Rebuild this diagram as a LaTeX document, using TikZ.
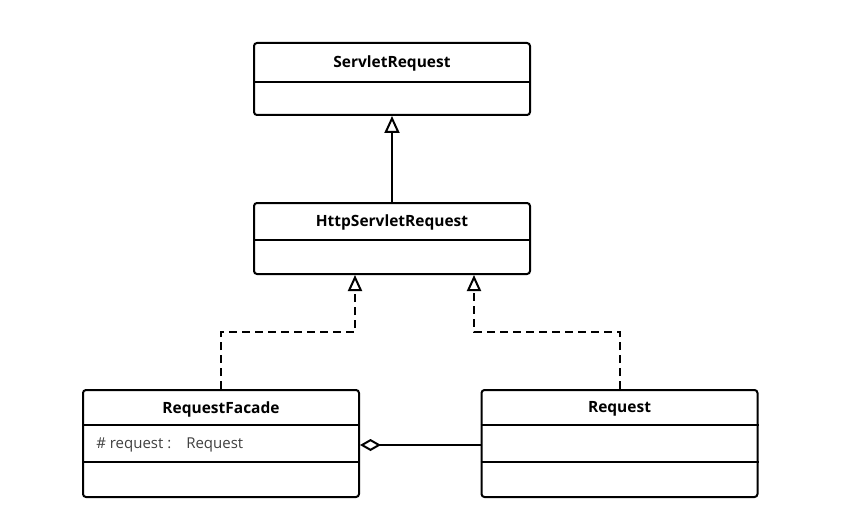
\documentclass[tikz,border=0pt]{standalone}
\usepackage{fontspec}
\setmainfont{Open Sans}
\usetikzlibrary{arrows.meta,positioning}

\begin{document}
\begin{tikzpicture}[x=1pt, y=-1pt, line width=2pt,
  cls/.style={draw, rounded corners=3pt, minimum width=276pt, inner sep=0pt},
  title/.style={font=\fontsize{15.5}{18}\selectfont\bfseries},
  attr/.style={font=\fontsize{15}{18}\selectfont, text=black!75, anchor=west},
  real/.style={dash pattern=on 8pt off 5pt, -{Triangle[open, length=16pt, width=14pt]}}]
\useasboundingbox (0,0) rectangle (853,513);
% class boxes
\node[cls, minimum height=72pt] (servlet) at (392,79) {};
\node[cls, minimum height=71pt] (http) at (392,238.5) {};
\node[cls, minimum height=107pt] (facade) at (221,443.5) {};
\node[cls, minimum height=107pt] (req) at (619.5,443.5) {};
% names and members
\node[title] (servletname) at (392,63) {ServletRequest};
\node[title] (httpname) at (392,222) {HttpServletRequest};
\node[title] (facadename) at (221,409) {RequestFacade};
\node[title] (reqname) at (619.5,409) {Request};
\node[attr] (facadeattr) at (92,445) {\# request :\hspace{15pt}Request};
% compartments
\draw (servlet.west |- 0,82) -- (servlet.east |- 0,82);
\draw (http.west |- 0,240) -- (http.east |- 0,240);
\draw (facade.west |- 0,425) -- (facade.east |- 0,425);
\draw (facade.west |- 0,462) -- (facade.east |- 0,462);
\draw (req.west |- 0,425) -- (req.east |- 0,425);
\draw (req.west |- 0,462) -- (req.east |- 0,462);
% relations
\draw[-{Triangle[open, length=17pt, width=15pt]}] (http.north) -- (servlet.south);
\draw[real] (facade.north) |- (355,332) -- (http.south -| 355,0);
\draw[real] (req.north) |- (474,332) -- (http.south -| 474,0);
\draw[-{Diamond[open, length=21pt, width=12pt]}] (facadeattr -| req.west) -- (facadeattr -| facade.east);
\end{tikzpicture}
\end{document}
